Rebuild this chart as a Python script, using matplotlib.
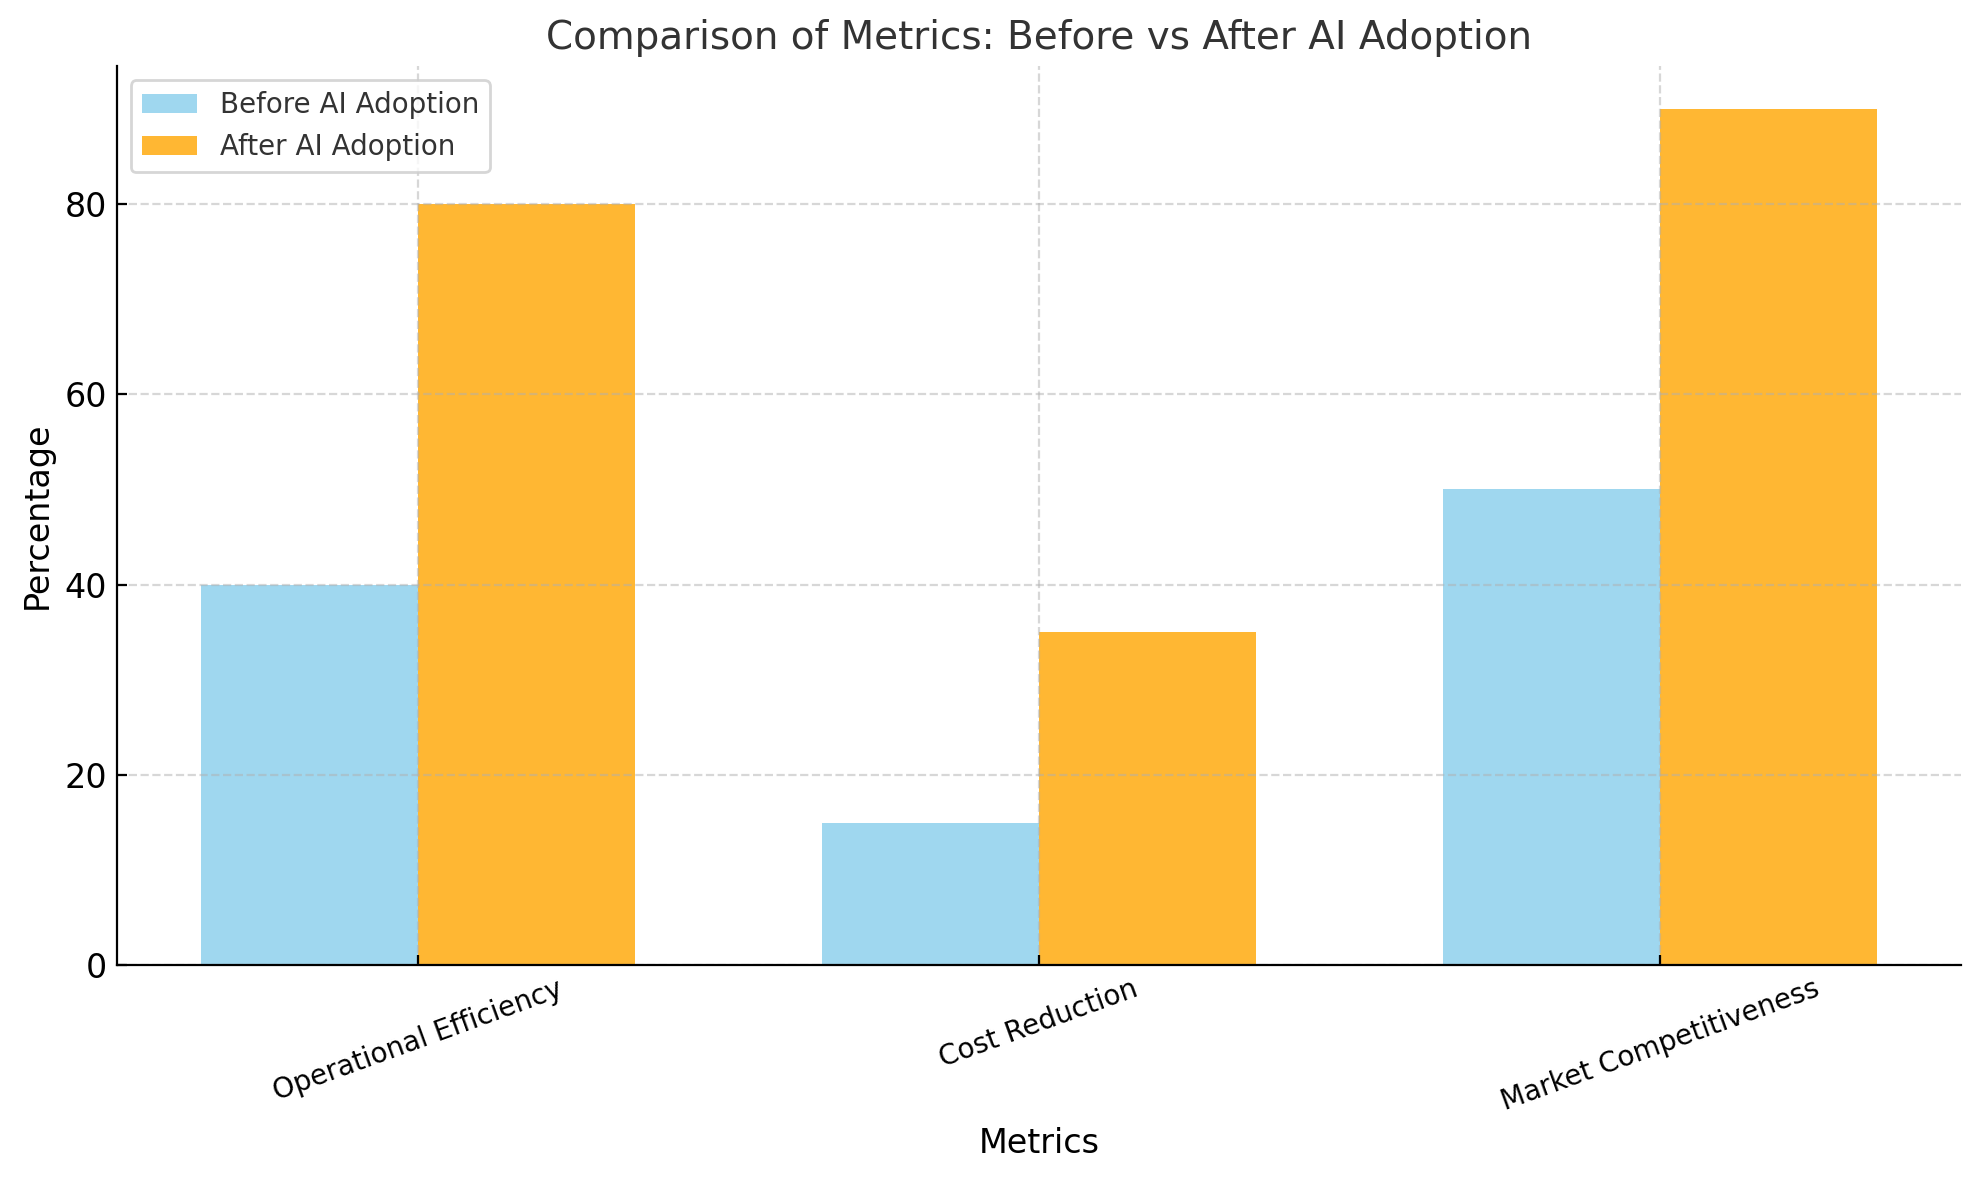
import numpy as np
import matplotlib.pyplot as plt

metrics = ["Operational Efficiency", "Cost Reduction", "Market Competitiveness"]
before_ai = [40, 15, 50]
after_ai = [80, 35, 90]

x = np.arange(len(metrics))
width = 0.35

fig, ax = plt.subplots(figsize=(9.895, 5.9), dpi=200)
fig.subplots_adjust(left=0.059, right=0.991, top=0.944, bottom=0.182)

ax.bar(x - width / 2, before_ai, width, label="Before AI Adoption", color="skyblue", alpha=0.8)
ax.bar(x + width / 2, after_ai, width, label="After AI Adoption", color="orange", alpha=0.8)

ax.set_title("Comparison of Metrics: Before vs After AI Adoption", fontsize=14, color="#333333")
ax.set_xlabel("Metrics", fontsize=12)
ax.set_ylabel("Percentage", fontsize=12)
ax.set_xticks(x)
ax.set_xticklabels(metrics, rotation=20, fontsize=10)
ax.tick_params(axis="y", labelsize=12)
ax.tick_params(direction="in")

ax.grid(True, linestyle="--", alpha=0.5)
ax.spines["top"].set_visible(False)
ax.spines["right"].set_visible(False)

leg = ax.legend(fontsize=10)
for t in leg.get_texts():
    t.set_color("#333333")

plt.savefig("out.png")
